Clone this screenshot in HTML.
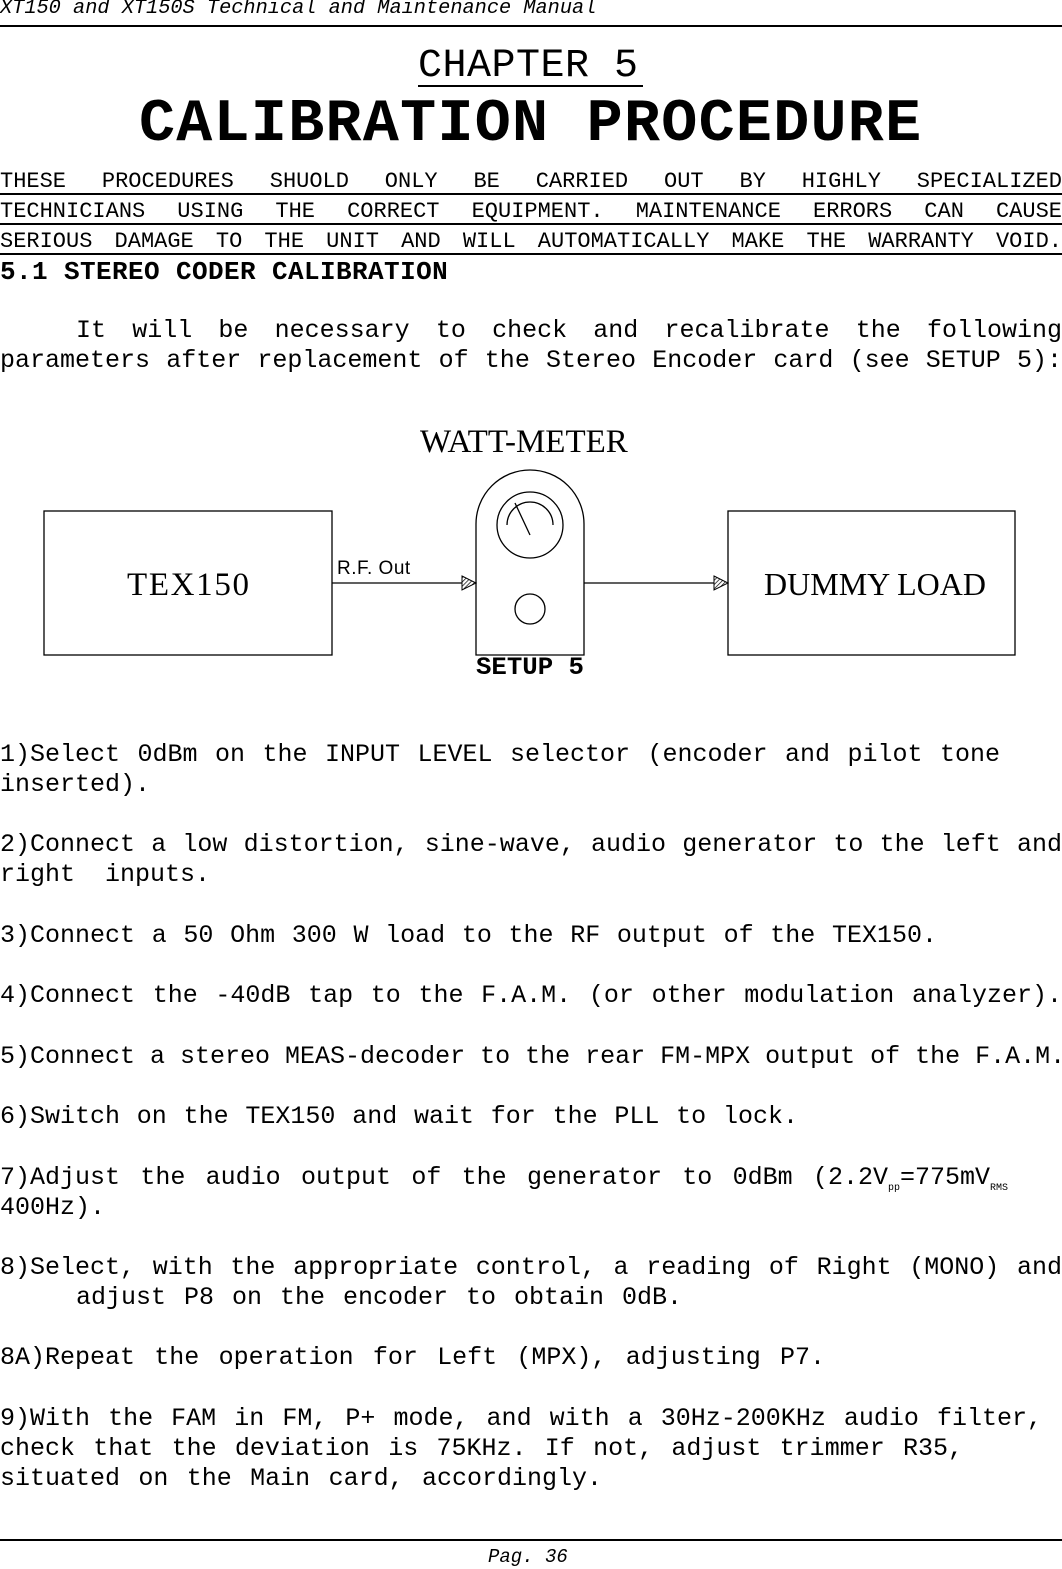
<!DOCTYPE html>
<html><head><meta charset="utf-8"><style>
html,body{margin:0;padding:0;background:#fff;}
body{width:1062px;height:1567px;position:relative;overflow:hidden;color:#000;font-family:"Liberation Mono",monospace;}
.a{position:absolute;white-space:nowrap;}
.j{position:absolute;white-space:nowrap;text-align:justify;text-align-last:justify;}
.b{font-size:25px;height:30px;line-height:30px;}
.t{font-size:22px;height:30px;line-height:30px;}
.rule{position:absolute;left:0;width:1062px;background:#000;}
sub{font-size:10px;vertical-align:-6px;line-height:0;}
</style></head><body>
<div class="a" style="left:0;top:-3px;font-size:20.3px;font-style:italic;line-height:24px;">XT150 and XT150S Technical and Maintenance Manual</div>
<div class="rule" style="top:25px;height:2px;"></div>

<div class="a" style="left:418px;top:42px;font-size:40px;line-height:50px;width:225px;letter-spacing:0.5px;">CHAPTER 5</div>
<div class="a" style="left:418px;top:85px;width:225px;height:2px;background:#000;"></div>
<div class="a" style="left:139px;top:93px;font-size:60px;font-weight:bold;line-height:64px;letter-spacing:1.3px;">CALIBRATION PROCEDURE</div>

<div class="j t" style="left:0;top:167px;width:1062px;">THESE PROCEDURES SHUOLD ONLY BE CARRIED OUT BY HIGHLY SPECIALIZED</div>
<div class="rule" style="top:193px;height:1.5px;"></div>
<div class="j t" style="left:0;top:197px;width:1062px;">TECHNICIANS USING THE CORRECT EQUIPMENT. MAINTENANCE ERRORS CAN CAUSE</div>
<div class="rule" style="top:223px;height:1.5px;"></div>
<div class="j t" style="left:0;top:227px;width:1062px;">SERIOUS DAMAGE TO THE UNIT AND WILL AUTOMATICALLY MAKE THE WARRANTY VOID.</div>
<div class="rule" style="top:253px;height:1.5px;"></div>
<div class="a" style="left:0;top:257px;font-size:26px;font-weight:bold;line-height:30px;letter-spacing:0.4px;">5.1 STEREO CODER CALIBRATION</div>

<div class="j b" style="left:76px;top:316px;width:986px;">It will be necessary to check and recalibrate the following</div>
<div class="j b" style="left:0;top:346px;width:1062px;">parameters after replacement of the Stereo Encoder card (see SETUP 5):</div>

<div class="a" style="left:420px;top:422px;font-family:'Liberation Serif',serif;font-size:33px;line-height:40px;width:226px;text-align:justify;text-align-last:justify;">WATT-METER</div>

<svg class="a" style="left:0;top:460px;" width="1062" height="230" viewBox="0 460 1062 230">
<defs><pattern id="h" width="3" height="3" patternUnits="userSpaceOnUse" patternTransform="rotate(45)"><rect width="3" height="3" fill="#fff"/><line x1="0" y1="0" x2="0" y2="3" stroke="#000" stroke-width="1.4"/></pattern></defs>
<g fill="none" stroke="#000" stroke-width="1.3">
<rect x="44" y="511" width="288" height="144"/>
<rect x="728" y="511" width="287" height="144"/>
<line x1="332" y1="583" x2="462" y2="583"/>
<line x1="584" y1="583" x2="714" y2="583"/>
<path d="M476 655 L476 524 A54 54 0 0 1 584 524 L584 655 Z"/>
<circle cx="530" cy="525" r="33"/>
<path d="M507 525 A23 23 0 0 1 553 525"/>
<line x1="515" y1="503" x2="530" y2="535"/>
<circle cx="530" cy="609" r="15"/>
</g>
<path d="M462 576 L476 583 L462 590 Z" fill="url(#h)" stroke="#000" stroke-width="1"/>
<path d="M714 576 L728 583 L714 590 Z" fill="url(#h)" stroke="#000" stroke-width="1"/>
<text x="337" y="574" font-family="Liberation Sans, sans-serif" font-size="19" letter-spacing="0.5">R.F. Out</text>
<text x="188" y="595" text-anchor="middle" font-family="Liberation Serif, serif" font-size="33" textLength="122">TEX150</text>
<text x="764" y="595" font-family="Liberation Serif, serif" font-size="32" textLength="222" lengthAdjust="spacing">DUMMY  LOAD</text>
<text x="476" y="674" font-family="Liberation Mono, monospace" font-size="25" font-weight="bold" textLength="108" lengthAdjust="spacingAndGlyphs">SETUP 5</text>
</svg>

<div class="j b" style="left:0;top:740px;width:1000px;">1)Select 0dBm on the INPUT LEVEL selector (encoder and pilot tone</div>
<div class="a b" style="left:0;top:770px;">inserted).</div>
<div class="j b" style="left:0;top:830px;width:1062px;">2)Connect a low distortion, sine-wave, audio generator to the left and</div>
<div class="a b" style="left:0;top:860px;">right&nbsp; inputs.</div>
<div class="j b" style="left:0;top:921px;width:937px;">3)Connect a 50 Ohm 300 W load to the RF output of the TEX150.</div>
<div class="j b" style="left:0;top:981px;width:1062px;">4)Connect the -40dB tap to the F.A.M. (or other modulation analyzer).</div>
<div class="j b" style="left:0;top:1042px;width:1062px;">5)Connect a stereo MEAS-decoder to the rear FM-MPX output of the F.A.M.</div>
<div class="j b" style="left:0;top:1102px;width:798px;">6)Switch on the TEX150 and wait for the PLL to lock.</div>
<div class="j b" style="left:0;top:1163px;width:1008px;">7)Adjust the audio output of the generator to 0dBm (2.2V<sub>pp</sub>=775mV<sub>RMS</sub></div>
<div class="a b" style="left:0;top:1193px;">400Hz).</div>
<div class="j b" style="left:0;top:1253px;width:1062px;">8)Select, with the appropriate control, a reading of Right (MONO) and</div>
<div class="j b" style="left:76px;top:1283px;width:606px;">adjust P8 on the encoder to obtain 0dB.</div>
<div class="j b" style="left:0;top:1343px;width:825px;">8A)Repeat the operation for Left (MPX), adjusting P7.</div>
<div class="j b" style="left:0;top:1404px;width:1042px;">9)With the FAM in FM, P+ mode, and with a 30Hz-200KHz audio filter,</div>
<div class="j b" style="left:0;top:1434px;width:963px;">check that the deviation is 75KHz. If not, adjust trimmer R35,</div>
<div class="j b" style="left:0;top:1464px;width:602px;">situated on the Main card, accordingly.</div>

<div class="rule" style="top:1539px;height:2px;"></div>
<div class="a" style="left:488px;top:1545px;font-size:19px;font-style:italic;line-height:24px;">Pag. 36</div>
</body></html>
